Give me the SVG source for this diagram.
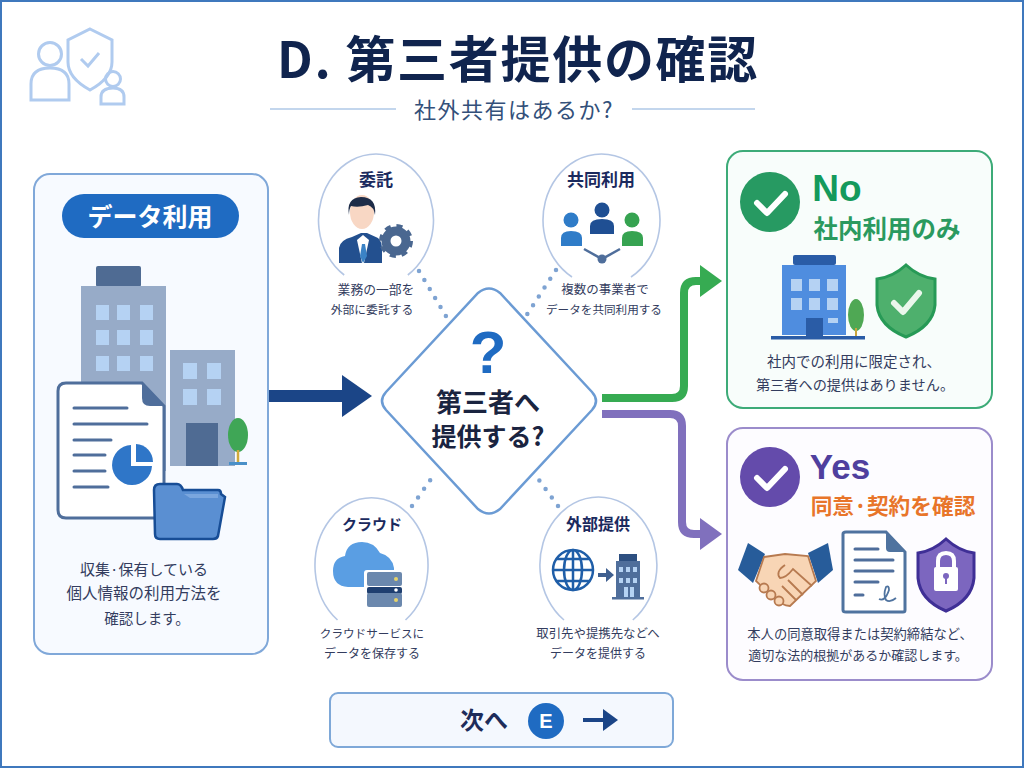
<svg xmlns="http://www.w3.org/2000/svg" width="1024" height="768" viewBox="0 0 1024 768">
<style>
text{font-family:"Noto Sans CJK JP","Liberation Sans",sans-serif;text-anchor:middle}
.t{font-weight:700;fill:#1b2a5e;font-size:17px}
.c{font-size:13.5px;fill:#333c5e}
.a{fill:none;stroke:#b4c6e4;stroke-width:1.6}
.dot{fill:none;stroke:#7ea3d2;stroke-width:4.500;stroke-linecap:round;stroke-dasharray:0 10.5}
.win{fill:#b5d2f3}
.line{stroke:#4f6e9b;stroke-width:3;stroke-linecap:round}
.skin{fill:#f8d5b5;stroke:#b77a50;stroke-width:1.800}
</style>
<rect x="1" y="1" width="1022" height="766" fill="#fff" stroke="#3f78bd" stroke-width="2"/>
<g id="header-icon" fill="none" stroke="#b0cbef" stroke-width="3">
<circle cx="50" cy="54" r="11.5"/>
<path d="M31 100V84Q31 68 50 68Q69 68 69 84V100Z"/>
<path d="M90 29L112 40V62Q112 78 90 90Q68 78 68 62V40Z"/>
<path d="M81 59L88 66L99 53"/>
<circle cx="113" cy="79" r="7.5"/>
<path d="M101 104V97Q101 88 113 88Q124 88 124 97V104Z"/>
</g>
<g id="title">
<text x="518" y="78" fill="#10244e" style="font-size:50px;font-weight:700;letter-spacing:1.7px">D. 第三者提供の確認</text>
<path d="M270 109H396M632 109H755" stroke="#b0c9e8" stroke-width="1.6"/>
<text x="514" y="118" fill="#33507a" style="font-size:22px;letter-spacing:1.5px">社外共有はあるか?</text>
</g>
<g id="connectors" fill="none">
<path d="M268 396H344" stroke="#1b4587" stroke-width="12"/>
<path d="M342 375L372 396L342 417Z" fill="#1b4587"/>
<path d="M602 398H672Q684 398 684 386V293Q684 281 696 281H702" stroke="#36ab52" stroke-width="8"/>
<path d="M700 265L722 281L700 297Z" fill="#36ab52"/>
<path d="M602 414H670Q682 414 682 426V522Q682 534 694 534H702" stroke="#8070bd" stroke-width="8"/>
<path d="M700 518L722 534L700 550Z" fill="#8070bd"/>
<path class="dot" d="M419 271L447 318"/>
<path class="dot" d="M556 270L526 316"/>
<path class="dot" d="M412 506L436 472"/>
<path class="dot" d="M558 506L536 476"/>
</g>
<g id="data-use">
<rect x="34" y="174" width="234" height="480" rx="16" fill="#f7faff" stroke="#80a8d9" stroke-width="2"/>
<rect x="62" y="194" width="177" height="44" rx="22" fill="#1f6bc2"/>
<text x="150" y="226" fill="#fff" style="font-size:25px;font-weight:700">データ利用</text>
<rect x="96" y="266" width="45" height="21" rx="2" fill="#4f6b93"/>
<rect x="81" y="286" width="85" height="110" fill="#97abc8"/>
<rect x="81" y="386" width="85" height="85" fill="#97abc8"/>
<g class="win">
<rect x="96" y="305" width="13" height="15"/><rect x="117" y="305" width="13" height="15"/><rect x="140" y="305" width="13" height="15"/>
<rect x="96" y="330" width="13" height="15"/><rect x="117" y="330" width="13" height="15"/><rect x="140" y="330" width="13" height="15"/>
<rect x="96" y="356" width="13" height="15"/><rect x="117" y="356" width="13" height="15"/><rect x="140" y="356" width="13" height="15"/>
</g>
<rect x="170" y="350" width="65" height="116" fill="#97abc8"/>
<g class="win"><rect x="183" y="363" width="14" height="16"/><rect x="207" y="363" width="14" height="16"/><rect x="183" y="389" width="14" height="16"/><rect x="207" y="389" width="14" height="16"/></g>
<rect x="186" y="423" width="32" height="43" fill="#4f6b93"/>
<ellipse cx="238" cy="435" rx="10" ry="17" fill="#3fa656"/>
<path d="M238 450V462" stroke="#d0a93c" stroke-width="2.5"/>
<rect x="229" y="462" width="18" height="3" fill="#4a90c8"/>
<path d="M66 383H142L164 406V510Q164 518 156 518H66Q58 518 58 510V391Q58 383 66 383Z" fill="#fff" stroke="#4f6e9b" stroke-width="3"/>
<path d="M142 383L164 406H150Q142 406 142 398Z" fill="#4f6e9b"/>
<path class="line" d="M74 408H127M74 424H147M74 440H111M74 455H105M74 471H105M74 487H108"/>
<path d="M131 445A20 20 0 1 0 152 466H131Z" fill="#2f76c8"/>
<path d="M136 444A18 18 0 0 1 153 462H136Z" fill="#2f76c8"/>
<path d="M154 490Q154 484 160 484H177Q181 484 183 490H218Q221 490 221 494L225 497L218 536Q217 539 213 539H160Q155 539 155 534Z" fill="#5a8fd2" stroke="#174d96" stroke-width="2.5"/>
<path d="M184 494H218V498H190Z" fill="#7aa6de"/>
<text x="144" y="575" class="c" style="font-size:15px">収集·保有している</text>
<text x="144" y="599" class="c" style="font-size:15.500px">個人情報の利用方法を</text>
<text x="147" y="624" class="c" style="font-size:14.500px">確認します。</text>
</g>
<g id="outsource">
<path class="a" d="M344.200 275A57.500 66 0 1 1 407.800 275"/>
<text x="376" y="186" class="t">委託</text>
<path d="M339 263V248Q340 240 352 237L361 233H367L378 238Q382 241 382 250V263Z" fill="#23508f"/>
<path d="M357 240L362 263H364L369 240L363 235Z" fill="#fff"/>
<path d="M362 244H365L367 256L363 263L360 256Z" fill="#3b83c6"/>
<ellipse cx="362" cy="212" rx="12" ry="17" fill="#f8d7c4"/>
<path d="M349 215Q346 198 361 197Q377 197 375 215Q374 207 368 205Q358 208 351 206Q349 209 349 215Z" fill="#1d2c48"/>
<circle cx="396" cy="241" r="10" fill="none" stroke="#4a6790" stroke-width="9"/>
<circle cx="396" cy="241" r="15" fill="none" stroke="#4a6790" stroke-width="4" stroke-dasharray="6 5.780"/>
<text x="376" y="294" class="c" style="font-size:12.800px">業務の一部を</text>
<text x="372" y="314" class="c" style="font-size:11.800px">外部に委託する</text>
</g>
<g id="joint-use">
<path class="a" d="M572 277A58.500 66 0 1 1 631 277"/>
<text x="601" y="186" class="t">共同利用</text>
<circle cx="571" cy="220" r="7.500" fill="#2f7cc8"/><path d="M561 246V238Q561 231 571 231Q582 231 582 238V246Z" fill="#2f7cc8"/>
<circle cx="602" cy="210" r="7.500" fill="#1f4f93"/><path d="M590 234V226Q590 219 602 219Q614 219 614 226V234Z" fill="#1f4f93"/>
<circle cx="632" cy="220" r="7.500" fill="#36a351"/><path d="M622 246V238Q622 231 632 231Q643 231 643 238V246Z" fill="#36a351"/>
<path d="M584 249L602 259L620 249" fill="none" stroke="#4f6e9b" stroke-width="2.500"/>
<circle cx="602" cy="259" r="4.500" fill="#4f6e9b"/>
<text x="605" y="294" class="c" style="font-size:12.500px">複数の事業者で</text>
<text x="604" y="314" class="c" style="font-size:11.600px">データを共同利用する</text>
</g>
<g id="diamond">
<path d="M478 293Q489 284 500 293L592 392Q600 401 592 410L500 509Q489 518 478 509L386 410Q378 401 386 392Z" fill="#fff" stroke="#6b9bd4" stroke-width="2.500"/>
<text x="488" y="373" fill="#1f6bc2" style="font-size:60px;font-weight:700;font-family:'Liberation Sans',sans-serif">?</text>
<text x="488" y="412" fill="#1a2440" style="font-size:26px;font-weight:700">第三者へ</text>
<text x="488" y="446" fill="#1a2440" style="font-size:25px;font-weight:700">提供する?</text>
</g>
<g id="cloud">
<path class="a" d="M337.500 620A56.500 68 0 1 1 405.500 620"/>
<text x="372" y="530" class="t" style="font-size:15px">クラウド</text>
<path d="M348 587Q333 586 333 571Q333 558 345 556Q347 542 362 542Q374 542 380 553Q392 556 394 568V587Z" fill="#5a9ee3"/>
<rect x="364" y="570" width="39" height="38" rx="3" fill="#fff"/>
<rect x="367" y="572" width="35" height="14" rx="2" fill="#6b88ad"/>
<rect x="367" y="587" width="35" height="7" rx="2" fill="#1f3f70"/>
<rect x="367" y="593" width="35" height="14" rx="2" fill="#6b88ad"/>
<circle cx="396" cy="579" r="2" fill="#e8d46a"/><circle cx="396" cy="590" r="1.800" fill="#fff"/><circle cx="396" cy="600" r="2" fill="#e8d46a"/>
<text x="372" y="638" class="c" style="font-size:11.600px">クラウドサービスに</text>
<text x="372" y="658" class="c" style="font-size:12px">データを保存する</text>
</g>
<g id="external">
<path class="a" d="M564 620A58.500 68 0 1 1 632.800 620"/>
<text x="598" y="530" class="t" style="font-size:16px">外部提供</text>
<g fill="none" stroke="#1f5ea8" stroke-width="2.500">
<circle cx="573" cy="570" r="20"/><ellipse cx="573" cy="570" rx="9" ry="20"/><path d="M573 550V590M553 570H593M556 559H590M556 581H590"/>
</g>
<path d="M598 573H606V568L614 575L606 582V577H598Z" fill="#3f5f8f"/>
<rect x="619" y="554" width="18" height="7" fill="#2d4f80"/>
<rect x="616" y="561" width="24" height="37" fill="#4f6e9b"/>
<g class="win"><rect x="619" y="567" width="4" height="5"/><rect x="626" y="567" width="4" height="5"/><rect x="633" y="567" width="4" height="5"/><rect x="619" y="578" width="4" height="5"/><rect x="626" y="578" width="4" height="5"/><rect x="633" y="578" width="4" height="5"/><rect x="624" y="587" width="4" height="11"/><rect x="630" y="587" width="4" height="11"/></g>
<rect x="612" y="597" width="32" height="2.500" fill="#4f6e9b"/>
<text x="598" y="638" class="c" style="font-size:12.400px">取引先や提携先などへ</text>
<text x="598" y="658" class="c" style="font-size:12px">データを提供する</text>
</g>
<g id="no-panel">
<rect x="727" y="151" width="265" height="257" rx="16" fill="#f8fdfb" stroke="#3dab78" stroke-width="2"/>
<circle cx="770" cy="202" r="30" fill="#279a62"/>
<path d="M757 203L767 213L785 194" fill="none" stroke="#fff" stroke-width="6" stroke-linecap="round" stroke-linejoin="round"/>
<text x="837" y="201" fill="#149a5c" style="font-size:37px;font-weight:700;font-family:'Liberation Sans',sans-serif">No</text>
<text x="887" y="238" fill="#2a9a5f" style="font-size:24.500px;font-weight:700">社内利用のみ</text>
<rect x="793" y="255" width="43" height="10" rx="2" fill="#2a5ca6"/>
<rect x="782" y="265" width="64" height="70" fill="#4f8ddf"/>
<g class="win"><rect x="791" y="279" width="11" height="12"/><rect x="809" y="279" width="11" height="12"/><rect x="827" y="279" width="11" height="12"/><rect x="791" y="298" width="11" height="12"/><rect x="809" y="298" width="11" height="12"/><rect x="827" y="298" width="11" height="12"/><rect x="828" y="318" width="10" height="5"/></g>
<rect x="806" y="318" width="17" height="20" fill="#2a5ca6"/>
<rect x="771" y="336" width="94" height="3.500" fill="#2a5ca6"/>
<ellipse cx="856" cy="315" rx="8" ry="16" fill="#4fa854"/>
<path d="M856 328V336" stroke="#c9a63c" stroke-width="2"/>
<path d="M906 265Q919 277 935 279V305Q933 326 906 337Q879 326 877 305V279Q893 277 906 265Z" fill="#4eb06d" stroke="#279a56" stroke-width="3"/>
<path d="M894 303L903 312L919 293" fill="none" stroke="#eaf7ec" stroke-width="6" stroke-linecap="round" stroke-linejoin="round"/>
<text x="854" y="367" class="c" style="font-size:14.500px">社内での利用に限定され、</text>
<text x="855" y="390" class="c" style="font-size:14.200px">第三者への提供はありません。</text>
</g>
<g id="yes-panel">
<rect x="727" y="428" width="265" height="252" rx="16" fill="#fdfcff" stroke="#9b8ccb" stroke-width="2"/>
<circle cx="770" cy="477" r="30" fill="#644bab"/>
<path d="M757 478L767 488L785 469" fill="none" stroke="#fff" stroke-width="6" stroke-linecap="round" stroke-linejoin="round"/>
<text x="840" y="479" fill="#4f3f9e" style="font-size:35px;font-weight:700;font-family:'Liberation Sans',sans-serif">Yes</text>
<text x="893" y="514" fill="#e8752a" style="font-size:21.700px;font-weight:700">同意·契約を確認</text>
<path d="M748 543L765 554L753 583L738 570Z" fill="#275c9a"/>
<path d="M828 543L833 570L818 583L808 553Z" fill="#275c9a"/>
<path d="M764 557L785 554L808 556L816 581L790 606Q782 606 772 596L756 581Z" class="skin"/>
<circle cx="764" cy="588" r="4.500" class="skin"/><circle cx="771" cy="595" r="4.500" class="skin"/><circle cx="779" cy="601" r="4.500" class="skin"/>
<path d="M785 565Q775 572 780 578Q786 578 793 569L812 586M788 580L803 595M782 586L796 600" fill="none" stroke="#b77a50" stroke-width="1.800"/>
<path d="M846 532H886L905 552V610Q905 612 903 612H846Q843 612 843 610V534Q843 532 846 532Z" fill="#fff" stroke="#4f739f" stroke-width="3"/>
<path d="M886 532L905 552H890Q886 552 886 548Z" fill="#4f739f"/>
<path class="line" d="M855 549H878M855 560H893M855 571H893M855 582H878M855 595H863"/>
<path d="M879 599Q885 602 889 590Q889 585 886 587Q883 595 886 600Q890 603 896 598" fill="none" stroke="#4f739f" stroke-width="1.800"/>
<path d="M946 539Q959 551 974 553V578Q972 600 946 611Q920 600 918 578V553Q933 551 946 539Z" fill="#7c66bf" stroke="#3f2f96" stroke-width="3"/>
<rect x="934" y="567" width="24" height="24" rx="2" fill="#fff"/>
<path d="M938 567V561Q938 553 946 553Q954 553 954 561V567" fill="none" stroke="#fff" stroke-width="4"/>
<circle cx="946" cy="576" r="3" fill="#7c66bf"/><rect x="945" y="577" width="2" height="7" fill="#7c66bf"/>
<text x="860" y="639" class="c" style="font-size:13.300px">本人の同意取得または契約締結など、</text>
<text x="858" y="660" class="c" style="font-size:13px">適切な法的根拠があるか確認します。</text>
</g>
<g id="next">
<rect x="330" y="693" width="343" height="54" rx="8" fill="#f4f8fe" stroke="#7ea8d8" stroke-width="2"/>
<text x="484" y="729" fill="#1d2c5a" style="font-size:24px;font-weight:700">次へ</text>
<circle cx="546" cy="721" r="18" fill="#1f6bc2"/>
<text x="546" y="728" fill="#fff" style="font-size:20px;font-weight:700;font-family:'Liberation Sans',sans-serif">E</text>
<path d="M583 720H604" stroke="#1b4587" stroke-width="4"/>
<path d="M603 709L618 720L603 731Z" fill="#1b4587"/>
</g>
</svg>
